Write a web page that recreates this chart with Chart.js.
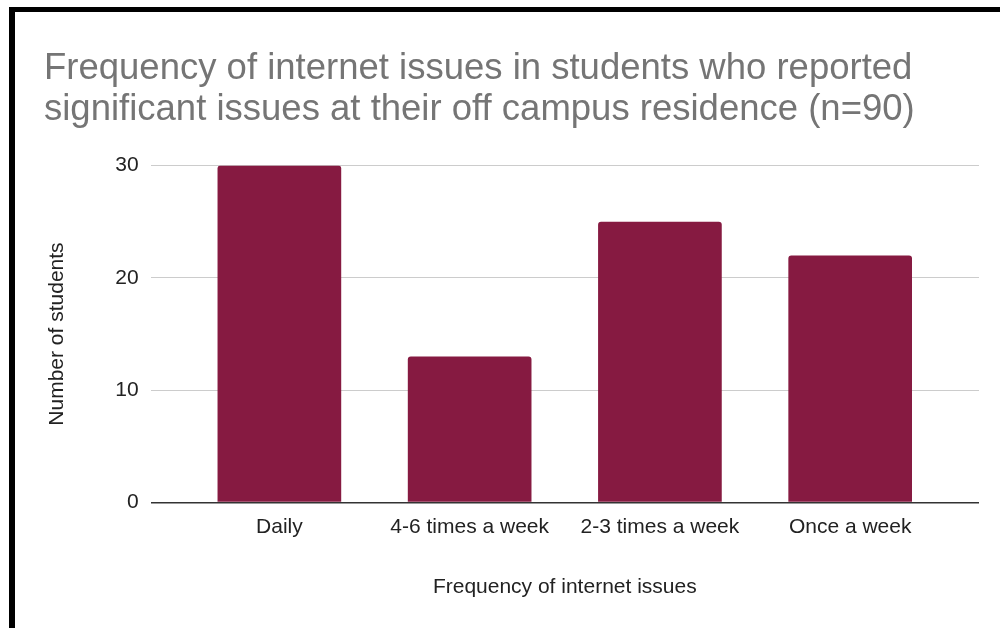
<!DOCTYPE html>
<html>
<head>
<meta charset="utf-8">
<script src="https://cdn.jsdelivr.net/npm/chart.js@4"></script>
<style>
  body { margin: 0; background: #fff; }
  #wrap { position: relative; width: 1000px; height: 628px; overflow: hidden; }
  #frame {
    position: absolute; left: 9px; top: 7px; width: 1100px; height: 700px;
    border-left: 6px solid #000; border-top: 5px solid #000;
    pointer-events: none;
  }
</style>
</head>
<body>
<div id="wrap">
  <canvas id="chart" width="1000" height="628"></canvas>
  <div id="frame"></div>
</div>
<script>
const titleLines = [
    "Frequency of internet issues in students who reported",
    "significant issues at their off campus residence (n=90)"
];
const categories = ["Daily", "4-6 times a week", "2-3 times a week", "Once a week"];
const students = [30, 13, 25, 22];
const yTicks = [0, 10, 20, 30];

const FONT = "'Liberation Sans', Arial, sans-serif";

// bars sit on a linear x axis so the plot can keep some room at both ends
const points = students.map((v, i) => ({ x: i, y: v }));

const ctx = document.getElementById("chart").getContext("2d");

new Chart(ctx, {
    type: "bar",
    data: {
        datasets: [{
            label: "Number of students",
            data: points,
            backgroundColor: "#861a41",
            borderRadius: { topLeft: 3, topRight: 3, bottomLeft: 0, bottomRight: 0 },
            borderSkipped: "start",
            barPercentage: 1,
            categoryPercentage: 0.65
        }]
    },
    options: {
        responsive: false,
        animation: false,
        layout: { padding: { left: 44, right: 21, top: 0, bottom: 0 } },
        plugins: {
            legend: { display: false },
            tooltip: { enabled: false },
            title: {
                display: true,
                text: titleLines,
                align: "start",
                color: "#757575",
                font: { family: FONT, size: 36.5, weight: "normal", lineHeight: 1.13 },
                padding: { top: 48, bottom: 35 }
            }
        },
        scales: {
            x: {
                type: "linear",
                offset: false,
                min: -0.677,
                max: 3.677,
                afterBuildTicks: axis => { axis.ticks = categories.map((_, i) => ({ value: i })); },
                ticks: {
                    callback: v => categories[v],
                    color: "#222",
                    font: { family: FONT, size: 21 },
                    padding: 12,
                    autoSkip: false,
                    maxRotation: 0
                },
                grid: { display: false, drawTicks: false },
                border: { display: false },
                title: {
                    display: true,
                    text: "Frequency of internet issues",
                    color: "#222",
                    font: { family: FONT, size: 21 },
                    padding: { top: 23, bottom: 28 }
                }
            },
            y: {
                min: 0,
                max: 30,
                afterBuildTicks: axis => { axis.ticks = yTicks.map(v => ({ value: v })); },
                ticks: {
                    color: "#222",
                    font: { family: FONT, size: 21 },
                    padding: 12
                },
                grid: {
                    drawTicks: false,
                    color: c => c.tick && c.tick.value === 0 ? "#333333" : "#cccccc",
                    lineWidth: c => c.tick && c.tick.value === 0 ? 1.5 : 1
                },
                border: { display: false },
                title: {
                    display: true,
                    text: "Number of students",
                    color: "#222",
                    font: { family: FONT, size: 21 },
                    padding: { top: 1, bottom: 33 }
                }
            }
        }
    }
});
</script>
</body>
</html>
